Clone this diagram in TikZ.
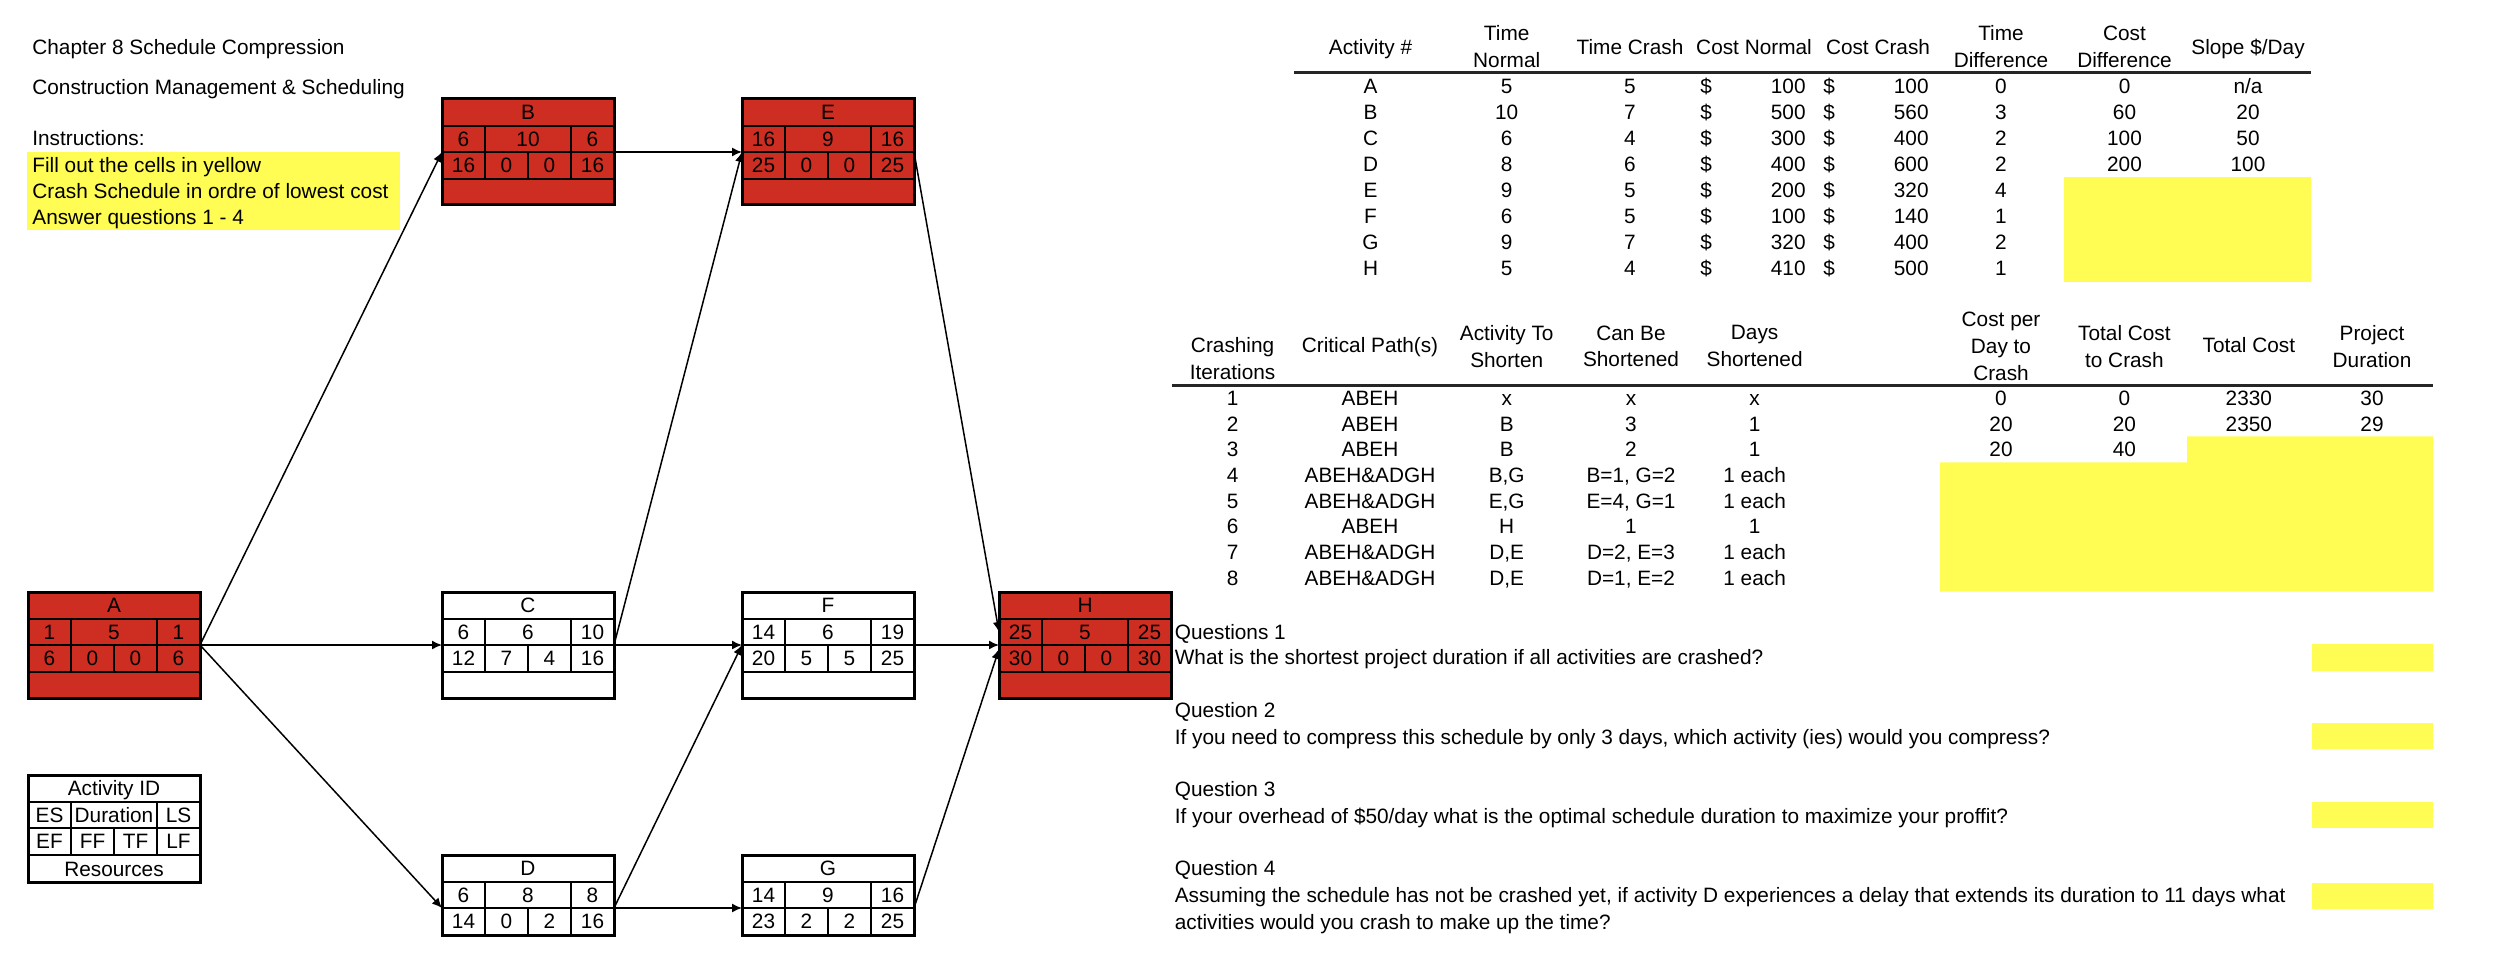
\documentclass[tikz,border=0pt]{standalone}
\usepackage{fontspec}
\setmainfont{Liberation Sans}
\usetikzlibrary{calc,arrows.meta}
\definecolor{boxred}{RGB}{206,45,34}
\definecolor{cellyellow}{RGB}{255,253,84}

\tikzset{
  txt/.style={inner sep=0pt, anchor=base, yshift=-3.7pt},
  txtl/.style={txt, anchor=base west},
  txtr/.style={txt, anchor=base east},
  hdr/.style={inner sep=0pt, align=center, anchor=center},
  actbox/.style={draw, line width=1.5pt, minimum width=86pt, inner sep=0pt, outer sep=0pt, anchor=north west},
  gridln/.style={line width=0.65pt},
  arr/.style={line width=0.75pt, -{Latex[length=5pt,width=4.5pt]}},
  rule/.style={line width=1.1pt, draw=black!85},
}

% #1 node, #2 id, #3 ES, #4 Dur, #5 LS, #6 EF, #7 FF, #8 TF, #9 LF
\newcommand\actcells[9]{%
  \coordinate (#1-o) at (#1.north west);
  \draw[gridln] ($(#1-o)+(0,27)$) -- ++(172,0);
  \draw[gridln] ($(#1-o)+(0,53)$) -- ++(172,0);
  \draw[gridln] ($(#1-o)+(0,80)$) -- ++(172,0);
  \draw[gridln] ($(#1-o)+(43,27)$) -- ++(0,53);
  \draw[gridln] ($(#1-o)+(129,27)$) -- ++(0,53);
  \draw[gridln] ($(#1-o)+(86,53)$) -- ++(0,27);
  \node[txt] (#1-id) at ($(#1-o)+(86,13.5)$) {#2};
  \node[txt] (#1-es) at ($(#1-o)+(21.5,40)$) {#3};
  \node[txt] (#1-du) at ($(#1-o)+(86,40)$) {#4};
  \node[txt] (#1-ls) at ($(#1-o)+(150.5,40)$) {#5};
  \node[txt] (#1-ef) at ($(#1-o)+(21.5,66.5)$) {#6};
  \node[txt] (#1-ff) at ($(#1-o)+(64.5,66.5)$) {#7};
  \node[txt] (#1-tf) at ($(#1-o)+(107.5,66.5)$) {#8};
  \node[txt] (#1-lf) at ($(#1-o)+(150.5,66.5)$) {#9};
  \coordinate (#1-in) at ($(#1-o)+(0,53)$);
  \coordinate (#1-out) at ($(#1-o)+(172,53)$);
}

% top table row: #1 idx #2 y #3 act #4 tn #5 tc #6 cn #7 cc #8 td
\newcommand\trow[8]{%
  \node[txt] (t#1-act) at (1370.5,#2) {#3};
  \node[txt] (t#1-tn) at (1506.7,#2) {#4};
  \node[txt] (t#1-tc) at (1630,#2) {#5};
  \node[txtl] (t#1-d1) at (1700,#2) {\$};
  \node[txtr] (t#1-cn) at (1806,#2) {#6};
  \node[txtl] (t#1-d2) at (1823,#2) {\$};
  \node[txtr] (t#1-cc) at (1929,#2) {#7};
  \node[txt] (t#1-td) at (2001,#2) {#8};
}

% crash table row: #1 idx #2 y #3 cp #4 act #5 can #6 days
\newcommand\crow[6]{%
  \node[txt] (c#1-it) at (1232.6,#2) {#1};
  \node[txt] (c#1-cp) at (1370,#2) {#3};
  \node[txt] (c#1-act) at (1506.7,#2) {#4};
  \node[txt] (c#1-can) at (1631,#2) {#5};
  \node[txt] (c#1-days) at (1754.6,#2) {#6};
}

\begin{document}
\begin{tikzpicture}[x=0.5pt, y=-0.5pt, font=\fontsize{10.4}{13.4}\selectfont]
\useasboundingbox (0,0) rectangle (2514,978);
\fill[white] (0,0) rectangle (2514,978);

% ---------- left texts ----------
\node[txtl] (title1) at (32,47) {Chapter 8 Schedule Compression};
\node[txtl] (title2) at (32,87) {Construction Management \& Scheduling};
\node[txtl] (instr) at (32,138) {Instructions:};
\fill[cellyellow] (27,152) rectangle (400,230);
\node[txtl] (ins1) at (32,165) {Fill out the cells in yellow};
\node[txtl] (ins2) at (32,191) {Crash Schedule in ordre of lowest cost};
\node[txtl] (ins3) at (32,217) {Answer questions 1 - 4};

% ---------- activity boxes ----------
\node[actbox, fill=boxred, minimum height=53pt] (A) at (28,592) {};
\actcells{A}{A}{1}{5}{1}{6}{0}{0}{6}
\node[actbox, fill=boxred, minimum height=53pt] (B) at (442,99) {};
\actcells{B}{B}{6}{10}{6}{16}{0}{0}{16}
\node[actbox, fill=white, minimum height=53pt] (C) at (442,592) {};
\actcells{C}{C}{6}{6}{10}{12}{7}{4}{16}
\node[actbox, fill=white, minimum height=40pt] (D) at (442,855) {};
\actcells{D}{D}{6}{8}{8}{14}{0}{2}{16}
\node[actbox, fill=boxred, minimum height=53pt] (E) at (742,99) {};
\actcells{E}{E}{16}{9}{16}{25}{0}{0}{25}
\node[actbox, fill=white, minimum height=53pt] (F) at (742,592) {};
\actcells{F}{F}{14}{6}{19}{20}{5}{5}{25}
\node[actbox, fill=white, minimum height=40pt] (G) at (742,855) {};
\actcells{G}{G}{14}{9}{16}{23}{2}{2}{25}
\node[actbox, fill=boxred, minimum height=53pt] (H) at (999,592) {};
\actcells{H}{H}{25}{5}{25}{30}{0}{0}{30}
\coordinate (H-inE) at ($(H-o)+(0,40)$);
\coordinate (H-inG) at ($(H-o)+(0,57)$);

% legend
\node[actbox, fill=white, minimum height=53.5pt] (L) at (28,775) {};
\actcells{L}{Activity ID}{ES}{Duration}{LS}{EF}{FF}{TF}{LF}
\node[txt] (L-res) at ($(L-o)+(86,94)$) {Resources};

% ---------- connectors ----------
\draw[arr] (A-out) -- (B-in);
\draw[arr] (A-out) -- (C-in);
\draw[arr] (A-out) -- (D-in);
\draw[arr] (B-out) -- (E-in);
\draw[arr] (C-out) -- (E-in);
\draw[arr] (C-out) -- (F-in);
\draw[arr] (D-out) -- (F-in);
\draw[arr] (D-out) -- (G-in);
\draw[arr] (E-out) -- (H-inE);
\draw[arr] (F-out) -- (H-in);
\draw[arr] (G-out) -- (H-inG);

% ---------- top table ----------
\fill[cellyellow] (2064,177) rectangle (2311,282);
\node[txt] (h-act) at (1370.5,46.7) {Activity \#};
\node[hdr] (h-tn) at (1506.7,46.5) {Time\\Normal};
\node[txt] (h-tc) at (1630,46.7) {Time Crash};
\node[txt] (h-cn) at (1754,46.7) {Cost Normal};
\node[txt] (h-cc) at (1878,46.7) {Cost Crash};
\node[hdr] (h-td) at (2001,46.5) {Time\\Difference};
\node[hdr] (h-cd) at (2124.5,46.5) {Cost\\Difference};
\node[txt] (h-sl) at (2248,46.7) {Slope \$/Day};
\draw[rule] (1294,72.5) -- (2311,72.5);

\trow{1}{86}{A}{5}{5}{100}{100}{0}
\trow{2}{112}{B}{10}{7}{500}{560}{3}
\trow{3}{138}{C}{6}{4}{300}{400}{2}
\trow{4}{164}{D}{8}{6}{400}{600}{2}
\trow{5}{190}{E}{9}{5}{200}{320}{4}
\trow{6}{216}{F}{6}{5}{100}{140}{1}
\trow{7}{242}{G}{9}{7}{320}{400}{2}
\trow{8}{268}{H}{5}{4}{410}{500}{1}
\node[txt] (t1-cd) at (2124.5,86) {0};
\node[txt] (t1-sl) at (2248,86) {n/a};
\node[txt] (t2-cd) at (2124.5,112) {60};
\node[txt] (t2-sl) at (2248,112) {20};
\node[txt] (t3-cd) at (2124.5,138) {100};
\node[txt] (t3-sl) at (2248,138) {50};
\node[txt] (t4-cd) at (2124.5,164) {200};
\node[txt] (t4-sl) at (2248,164) {100};

% ---------- crash table ----------
\fill[cellyellow] (2187,436.3) -- (2433,436.3) -- (2433,591.5) -- (1940,591.5) -- (1940,462.3) -- (2187,462.3) -- cycle;
\node[hdr] (k-it) at (1232.6,358.3) {Crashing\\Iterations};
\node[txt] (k-cp) at (1370,345) {Critical Path(s)};
\node[hdr] (k-act) at (1506.7,346.3) {Activity To\\Shorten};
\node[hdr] (k-can) at (1631,346.3) {Can Be\\Shortened};
\node[hdr] (k-days) at (1754.6,346.3) {Days\\Shortened};
\node[hdr] (k-cpd) at (2001,346.2) {Cost per\\Day to\\Crash};
\node[hdr] (k-tcc) at (2124.4,346.3) {Total Cost\\to Crash};
\node[txt] (k-tc) at (2248.8,345) {Total Cost};
\node[hdr] (k-pd) at (2372,346.3) {Project\\Duration};
\draw[rule] (1172,385.5) -- (2433,385.5);

\crow{1}{398}{ABEH}{x}{x}{x}
\crow{2}{423.7}{ABEH}{B}{3}{1}
\crow{3}{449.4}{ABEH}{B}{2}{1}
\crow{4}{475.1}{ABEH\&ADGH}{B,G}{B=1, G=2}{1 each}
\crow{5}{500.8}{ABEH\&ADGH}{E,G}{E=4, G=1}{1 each}
\crow{6}{526.5}{ABEH}{H}{1}{1}
\crow{7}{552.2}{ABEH\&ADGH}{D,E}{D=2, E=3}{1 each}
\crow{8}{577.9}{ABEH\&ADGH}{D,E}{D=1, E=2}{1 each}
\node[txt] (c1-cpd) at (2001,398) {0};
\node[txt] (c1-tcc) at (2124.4,398) {0};
\node[txt] (c1-tc) at (2248.8,398) {2330};
\node[txt] (c1-pd) at (2372,398) {30};
\node[txt] (c2-cpd) at (2001,423.7) {20};
\node[txt] (c2-tcc) at (2124.4,423.7) {20};
\node[txt] (c2-tc) at (2248.8,423.7) {2350};
\node[txt] (c2-pd) at (2372,423.7) {29};
\node[txt] (c3-cpd) at (2001,449.4) {20};
\node[txt] (c3-tcc) at (2124.4,449.4) {40};

% ---------- questions ----------
\fill[cellyellow] (2311.5,644.3) rectangle (2433,670.7);
\fill[cellyellow] (2311.5,723.3) rectangle (2433,749.3);
\fill[cellyellow] (2311.5,802) rectangle (2433,828.3);
\fill[cellyellow] (2311.5,882.7) rectangle (2433,909);
\node[txtl] (q1) at (1174.4,631.7) {Questions 1};
\node[txtl] (q1t) at (1174.4,657.3) {What is the shortest project duration if all activities are crashed?};
\node[txtl] (q2) at (1174.4,710) {Question 2};
\node[txtl] (q2t) at (1174.4,736.7) {If you need to compress this schedule by only 3 days, which activity (ies) would you compress?};
\node[txtl] (q3) at (1174.4,789.3) {Question 3};
\node[txtl] (q3t) at (1174.4,816) {If your overhead of \$50/day what is the optimal schedule duration to maximize your proffit?};
\node[txtl] (q4) at (1174.4,868.3) {Question 4};
\node[txtl] (q4t) at (1174.4,895) {Assuming the schedule has not be crashed yet, if activity D experiences a delay that extends its duration to 11 days what};
\node[txtl] (q4u) at (1174.4,921.7) {activities would you crash to make up the time?};
\end{tikzpicture}
\end{document}
